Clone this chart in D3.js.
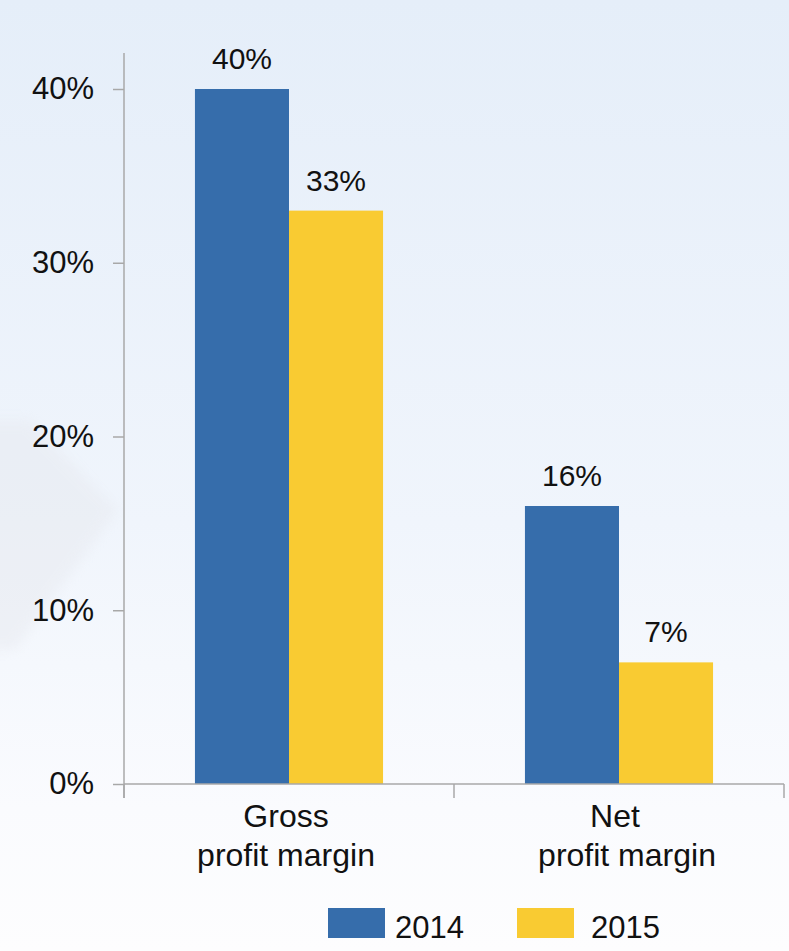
<!DOCTYPE html>
<html>
<head>
<meta charset="utf-8">
<script src="https://cdn.jsdelivr.net/npm/d3@7/dist/d3.min.js"></script>
<style>
html,body{margin:0;padding:0;background:#fff;}
svg{display:block;}
text{font-family:"Liberation Sans",Arial,sans-serif;fill:#111;}
</style>
</head>
<body>
<svg id="chart" width="789" height="951"></svg>
<script>
const categories = ["Gross\nprofit margin", "Net\nprofit margin"];
const seriesNames = ["2014", "2015"];
const values2014 = [40, 16];
const values2015 = [33, 7];
const yTicks = [0, 10, 20, 30, 40];
const colors = ["#366DAB", "#F9CB32"];

const W = 789, H = 951;
const svg = d3.select("#chart");

// background
const defs = svg.append("defs");
const g1 = defs.append("linearGradient").attr("id","bg").attr("x1",0).attr("y1",0).attr("x2",0).attr("y2",1);
g1.append("stop").attr("offset","0%").attr("stop-color","#E5EEF9");
g1.append("stop").attr("offset","55%").attr("stop-color","#F0F5FC");
g1.append("stop").attr("offset","85%").attr("stop-color","#FAFBFE");
g1.append("stop").attr("offset","100%").attr("stop-color","#FDFDFE");
svg.append("rect").attr("width",W).attr("height",H).attr("fill","url(#bg)");
const blur = defs.append("filter").attr("id","blur").attr("x","-50%").attr("y","-50%").attr("width","200%").attr("height","200%");
blur.append("feGaussianBlur").attr("stdDeviation",6);
svg.append("path")
  .attr("d","M-60,420 L30,420 L118,510 L15,650 L-60,650 Z")
  .attr("fill","#E6E8EE").attr("opacity",0.45).attr("filter","url(#blur)");

const x0 = d3.scaleBand().domain(categories).range([124, 784]).paddingInner(0.43).paddingOuter(0.215);
const x1 = d3.scaleBand().domain(seriesNames).range([0, x0.bandwidth()]);
const y = d3.scaleLinear().domain([0, 40]).range([784, 89]);

const data = categories.map((c, i) => ({cat: c, vals: [values2014[i], values2015[i]]}));

// bars
const grp = svg.append("g").selectAll("g").data(data).join("g")
  .attr("transform", d => `translate(${x0(d.cat)},0)`);
grp.selectAll("rect").data(d => d.vals.map((v, j) => ({v, s: seriesNames[j], j})))
  .join("rect")
  .attr("x", d => x1(d.s))
  .attr("y", d => y(d.v))
  .attr("width", x1.bandwidth())
  .attr("height", d => y(0) - y(d.v))
  .attr("fill", d => colors[d.j]);
grp.selectAll("text").data(d => d.vals.map((v, j) => ({v, s: seriesNames[j], j})))
  .join("text")
  .attr("x", d => x1(d.s) + x1.bandwidth() / 2)
  .attr("y", d => y(d.v) - 20)
  .attr("text-anchor", "middle")
  .style("font-size", "30px")
  .text(d => d.v + "%");

// y axis
const axisColor = "#A8A8A8";
const yAxis = svg.append("g").attr("transform","translate(124,0)")
  .call(d3.axisLeft(y).tickValues(yTicks).tickSize(11).tickPadding(19).tickFormat(d => d + "%"));
yAxis.select(".domain").remove();
yAxis.selectAll(".tick line").attr("stroke", axisColor).attr("stroke-width", 1.5);
yAxis.selectAll(".tick text").style("font-size","31px");
svg.append("line").attr("x1",124).attr("x2",124).attr("y1",53).attr("y2",798)
  .attr("stroke",axisColor).attr("stroke-width",1.5);

// x axis
svg.append("line").attr("x1",124).attr("x2",784).attr("y1",y(0)).attr("y2",y(0))
  .attr("stroke",axisColor).attr("stroke-width",1.5);
const bounds = [124, ...categories.map(c => x0(c) + x0.bandwidth()/2 + x0.step()/2)];
svg.append("g").selectAll("line").data(bounds).join("line")
  .attr("x1", d => d).attr("x2", d => d).attr("y1", y(0)).attr("y2", y(0) + 14)
  .attr("stroke", axisColor).attr("stroke-width", 1.5);

// category labels (per-line horizontal nudges as in the source layout)
const lineShift = [[-3, -3], [-4, 8]];
svg.append("g").selectAll("text").data(categories).join("text")
  .attr("y", 827)
  .attr("text-anchor","middle")
  .style("font-size","32px")
  .each(function(d, ci){
    const cx = x0(d) + x0.bandwidth()/2;
    const lines = d.split("\n");
    d3.select(this).selectAll("tspan").data(lines).join("tspan")
      .attr("x", (l, i) => cx + lineShift[ci][i])
      .attr("dy", (l, i) => i === 0 ? 0 : 39)
      .text(l => l);
  });

// legend
const legendX = [328, 517];
const lg = svg.append("g").selectAll("g").data(seriesNames).join("g")
  .attr("transform", (d, i) => `translate(${legendX[i]},908)`);
lg.append("rect").attr("width",57).attr("height",30).attr("fill",(d,i)=>colors[i]);
lg.append("text").attr("x",(d,i)=> i===0 ? 67 : 74).attr("y",30).style("font-size","31px").text(d => d);
</script>
</body>
</html>
